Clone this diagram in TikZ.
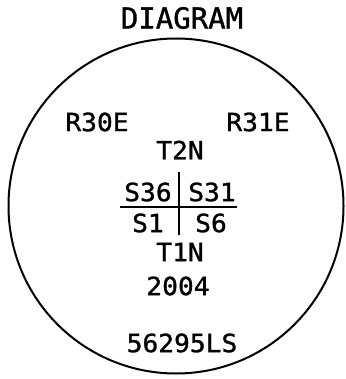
\documentclass[tikz,border=0pt]{standalone}
\usepackage{fontspec}
\newfontfamily\plotfont[FakeBold=1.2]{DejaVu Sans Mono}
\begin{document}
\begin{tikzpicture}[x=1pt,y=-1pt,
  lbl/.style={font=\plotfont\fontsize{25}{25}\selectfont, inner sep=0pt, anchor=center, xscale=1.05},
  ttl/.style={font=\plotfont\fontsize{29}{29}\selectfont, inner sep=0pt, anchor=center},
  ln/.style={line width=2.2pt, black}]
\useasboundingbox (0,0) rectangle (345,379);
\node[draw, circle, line width=2pt, minimum size=335pt, inner sep=0pt] (circ) at (176,206) {};
\node[ttl] (title) at (182,18) {DIAGRAM};
\node[lbl] (r30) at (97,122) {R30E};
\node[lbl] (r31) at (258,122) {R31E};
\node[lbl] (t2n) at (180,150) {T2N};
\node[lbl] (s36) at (148,192) {S36};
\node[lbl] (s31) at (212,192) {S31};
\node[lbl] (s1) at (148,223) {S1};
\node[lbl] (s6) at (211,223) {S6};
\node[lbl] (t1n) at (180,252) {T1N};
\node[lbl] (yr) at (178,286) {2004};
\node[lbl] (code) at (182,343) {56295LS};
\coordinate (hl) at (120,207);
\coordinate (hr) at (237,207);
\coordinate (vt) at (179,172);
\coordinate (vb) at (179,235);
\draw[ln] (hl) -- (hr);
\draw[ln] (vt) -- (vb);
\end{tikzpicture}
\end{document}
